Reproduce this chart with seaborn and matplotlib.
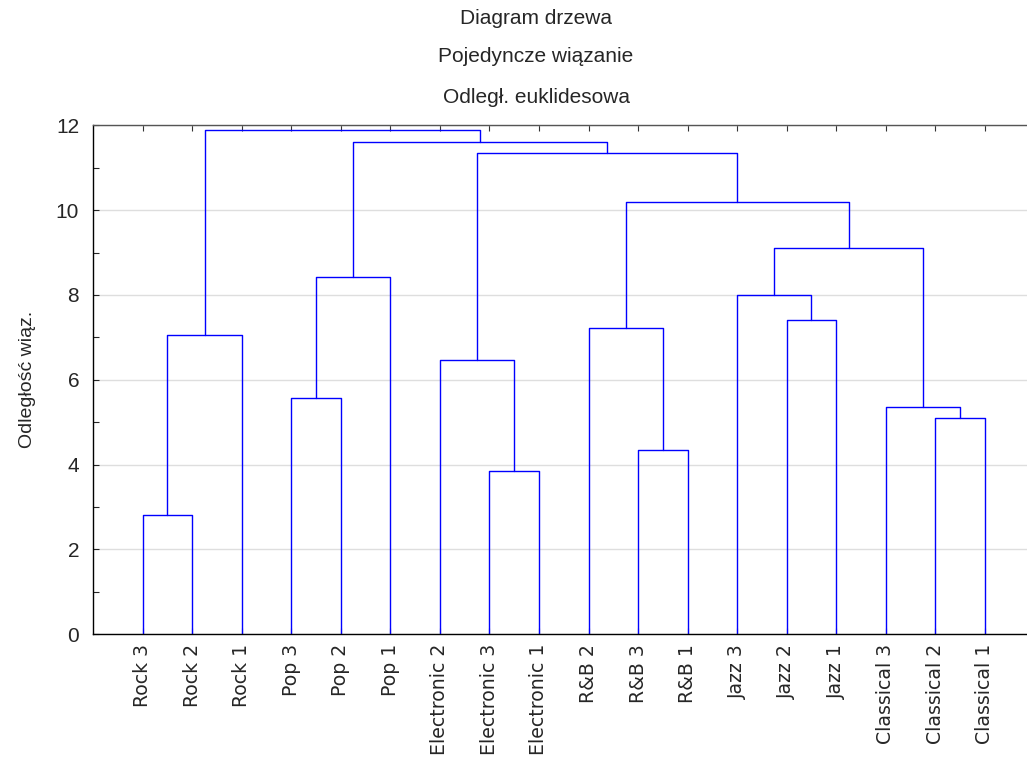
import numpy as np
import pandas as pd
import matplotlib
matplotlib.use("Agg")
import matplotlib.pyplot as plt
import seaborn as sns
from matplotlib.ticker import MultipleLocator

# liście w kolejności na osi X
leaves = [
    "Rock 3", "Rock 2", "Rock 1",
    "Pop 3", "Pop 2", "Pop 1",
    "Electronic 2", "Electronic 3", "Electronic 1",
    "R&B 2", "R&B 3", "R&B 1",
    "Jazz 3", "Jazz 2", "Jazz 1",
    "Classical 3", "Classical 2", "Classical 1",
]

# kolejne połączenia (indeksy jak w scipy: 0-17 liście, 18+ skupienia)
merge_left = [0, 7, 10, 16, 15, 3, 6, 18, 9, 13, 12, 23, 28, 26, 24, 29, 25]
merge_right = [1, 8, 11, 17, 21, 4, 19, 2, 20, 14, 27, 5, 22, 30, 31, 32, 33]
merge_height = [2.82, 3.86, 4.34, 5.09, 5.37, 5.56, 6.47, 7.06, 7.21,
                7.41, 8.01, 8.42, 9.10, 10.20, 11.35, 11.61, 11.90]

title_lines = ["Diagram drzewa", "Pojedyncze wiązanie", "Odległ. euklidesowa"]
y_label = "Odległość wiąz."


def build_segments(n_leaves, left, right, height):
    pos = {i: float(i) for i in range(n_leaves)}
    top = {i: 0.0 for i in range(n_leaves)}
    rows = []
    for k, (a, b, h) in enumerate(zip(left, right, height)):
        node = n_leaves + k
        xs = [pos[a], pos[a], pos[b], pos[b]]
        ys = [top[a], h, h, top[b]]
        for order, (x, y) in enumerate(zip(xs, ys)):
            rows.append({"link": k, "order": order, "x": x, "y": y})
        pos[node] = (pos[a] + pos[b]) / 2
        top[node] = h
    return pd.DataFrame(rows)


segments = build_segments(len(leaves), merge_left, merge_right, merge_height)

sns.set_style("white")
plt.rcParams["font.family"] = ["Liberation Sans", "DejaVu Sans"]

fig = plt.figure(figsize=(10.27, 7.58), dpi=100)
ax = fig.add_axes([0.0906, 0.1632, 0.9094, 0.6715])

sns.lineplot(
    data=segments, x="x", y="y", units="link", estimator=None, sort=False,
    color="#0000ff", linewidth=1.0, ax=ax, legend=False,
)

ax.set_xlim(-1, 17.85)
ax.set_ylim(0, 12)
ax.yaxis.set_major_locator(MultipleLocator(2))
ax.yaxis.set_minor_locator(MultipleLocator(1))
ax.grid(axis="y", which="major", color="#dedede", linewidth=1.0)
ax.set_axisbelow(True)

ax.set_xticks(range(len(leaves)))
ax.set_xticklabels(leaves, rotation=90, fontsize=13.6, family="DejaVu Sans")
ax.tick_params(axis="x", direction="in", top=True, bottom=True,
               length=4, width=0.8, pad=7, color="#333333")
ax.tick_params(axis="y", which="major", direction="in", length=4, width=0.8,
               labelsize=15, pad=10, left=True)
ax.tick_params(axis="y", which="minor", direction="in", length=4, width=0.8,
               left=True)

ax.set_xlabel("")
ax.set_ylabel(y_label, fontsize=14)
ax.yaxis.set_label_coords(-0.061, 0.5)

for name, spine in ax.spines.items():
    spine.set_linewidth(1.0)
    spine.set_color("black")
ax.spines["top"].set_color("#555555")
ax.spines["right"].set_visible(False)

for line, y in zip(title_lines, [0.975, 0.925, 0.872]):
    fig.text(0.522, y, line, ha="center", va="center", fontsize=15)

fig.savefig("out.png", dpi=100)
